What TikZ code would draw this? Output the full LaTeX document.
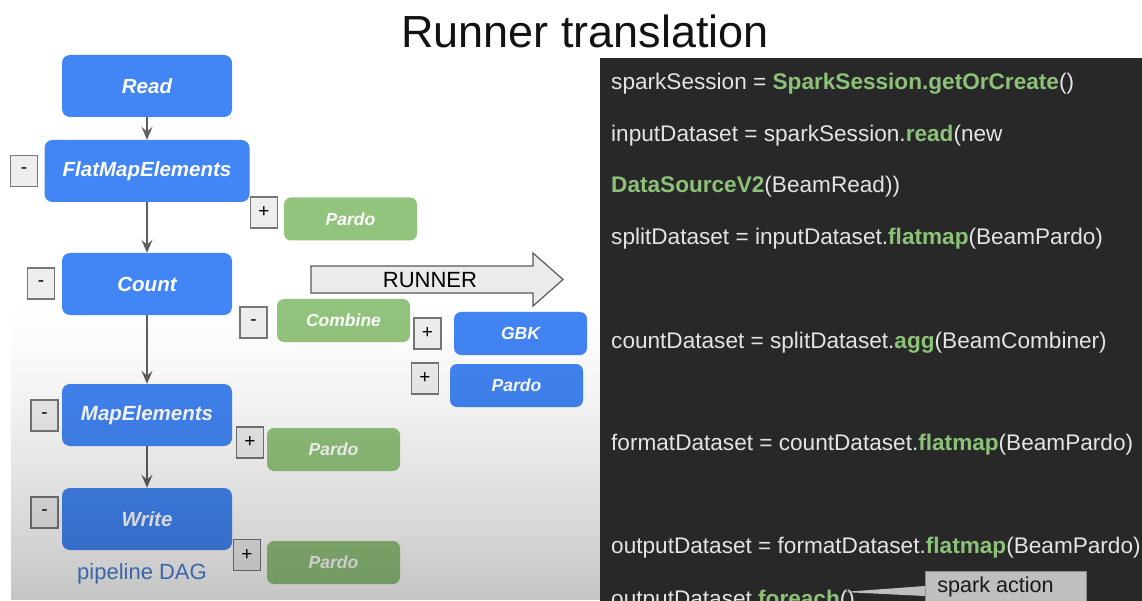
\documentclass[tikz,border=0pt]{standalone}
\usepackage{fontspec}
\setmainfont{Liberation Sans}
\usetikzlibrary{arrows.meta}
\definecolor{gblue}{HTML}{4285F4}
\definecolor{ggreen}{HTML}{93C47D}
\definecolor{codebg}{HTML}{282828}
\definecolor{codefg}{HTML}{E4E4E4}
\definecolor{kwgreen}{HTML}{8CC277}
\definecolor{dagblue}{HTML}{4A80D4}
\definecolor{togglefill}{HTML}{EEEEEE}
\definecolor{toggledraw}{HTML}{777777}
\definecolor{flowgray}{HTML}{5F5F5F}
\newcommand{\kw}[1]{\textcolor{kwgreen}{\bfseries #1}}
\begin{document}
\begin{tikzpicture}[x=1pt,y=-1pt,
  stage/.style={fill=gblue, rounded corners=8pt, text=white, inner sep=0pt,
    font=\fontsize{20.5}{24}\selectfont\bfseries\itshape,
    minimum width=170pt, minimum height=62pt},
  subblue/.style={fill=gblue, rounded corners=7pt, text=white, inner sep=0pt,
    font=\fontsize{17.5}{21}\selectfont\bfseries\itshape,
    minimum width=133pt, minimum height=43pt},
  subgreen/.style={subblue, fill=ggreen},
  toggle/.style={fill=togglefill, draw=toggledraw, line width=1.2pt, inner sep=0pt,
    minimum width=27pt, minimum height=31pt, text=black,
    font=\fontsize{19}{22}\selectfont},
  flow/.style={draw=flowgray, line width=2pt,
    -{Stealth[length=13pt,width=11pt,inset=5pt]}},
  codeline/.style={anchor=base west, inner sep=0pt, text=codefg,
    font=\fontsize{22.6}{26}\selectfont},
]
\useasboundingbox (0,0) rectangle (1142,601);
\begin{scope}
\clip (0,0) rectangle (1142,601);
\fill[white] (0,0) rectangle (1142,601);

% title
\node[font=\fontsize{45}{52}\selectfont, text=black!93] (title) at (585,31) {Runner translation};

% pipeline stages
\node[stage] (read)  at (147,86) {Read};
\node[stage, minimum width=205pt] (flat) at (147,171) {FlatMapElements};
\node[stage] (count) at (147,284) {Count};
\node[stage] (map)   at (147,415) {MapElements};
\node[stage] (write) at (147,519) {Write};

\draw[flow] (read)  -- (flat);
\draw[flow] (flat)  -- (count);
\draw[flow] (count) -- (map);
\draw[flow] (map)   -- (write);

% collapse / expand toggles
\node[toggle] (mflat)  at (24,171)      {-};
\node[toggle] (mcount) at (41,283.5)    {-};
\node[toggle] (mcomb)  at (253.5,322.5) {-};
\node[toggle] (mmap)   at (44.5,415.5)  {-};
\node[toggle] (mwrite) at (44.5,512.5)  {-};
\node[toggle] (pflat)  at (264,212.5)   {+};
\node[toggle] (pgbk)   at (427.5,333.5) {+};
\node[toggle] (ppar)   at (425,378.5)   {+};
\node[toggle] (pmap)   at (250,442.5)   {+};
\node[toggle] (pwrite) at (247,555)     {+};

% expanded sub-transforms
\node[subgreen] (parflat)  at (350.5,219)   {Pardo};
\node[subgreen] (combine)  at (343.5,320.5) {Combine};
\node[subgreen] (parmap)   at (333.5,449.5) {Pardo};
\node[subgreen] (parwrite) at (333.5,562.5) {Pardo};
\node[subblue]  (gbk)      at (520.5,333.5) {GBK};
\node[subblue]  (parblue)  at (516.5,385.5) {Pardo};

\node[text=dagblue, font=\fontsize{22}{26}\selectfont] (dag) at (142,574) {pipeline DAG};

% runner arrow
\draw[fill=black!8, draw=black!65, line width=1.2pt]
  (311,266) -- (533,266) -- (533,253) -- (563,279.5) -- (533,306) -- (533,293) -- (311,293) -- cycle;
\node[font=\fontsize{22}{26}\selectfont, text=black] (runner) at (430,280) {RUNNER};

% shadow that deepens towards the bottom of the canvas, in thin bands
\foreach \i [evaluate=\i as \op using {0.23*((\i+0.5)/60)^1.4}] in {0,...,59}
  \fill[black, fill opacity=\op] (11,{300+5*\i}) rectangle (600,{305+5*\i});

% Spark code panel
\fill[codebg] (600,58) rectangle (1142,601);
\node[codeline] (l1) at (611,90)    {sparkSession = \kw{SparkSession.getOrCreate}()};
\node[codeline] (l2) at (611,141.5) {inputDataset = sparkSession.\kw{read}(new};
\node[codeline] (l3) at (611,193)   {\kw{DataSourceV2}(BeamRead))};
\node[codeline] (l4) at (611,244.5) {splitDataset = inputDataset.\kw{flatmap}(BeamPardo)};
\node[codeline] (l5) at (611,348)   {countDataset = splitDataset.\kw{agg}(BeamCombiner)};
\node[codeline] (l6) at (611,450.5) {formatDataset = countDataset.\kw{flatmap}(BeamPardo)};
\node[codeline] (l7) at (611,553)   {outputDataset = formatDataset.\kw{flatmap}(BeamPardo)};
\node[codeline] (l8) at (611,606)   {outputDataset.\kw{foreach}()};

% callout
\node[fill=black!25, draw=black!45, line width=0.8pt, anchor=north west, inner sep=0pt,
  minimum width=161pt, minimum height=40pt] (action) at (925,571) {};
\fill[black!25] (843,592) -- (action.west |- 0,586) -- (action.west |- 0,596) -- cycle;
\node[font=\fontsize{21.6}{26}\selectfont, text=black!90] (actiontext) at (995.5,587) {spark action};
\end{scope}
\end{tikzpicture}
\end{document}
